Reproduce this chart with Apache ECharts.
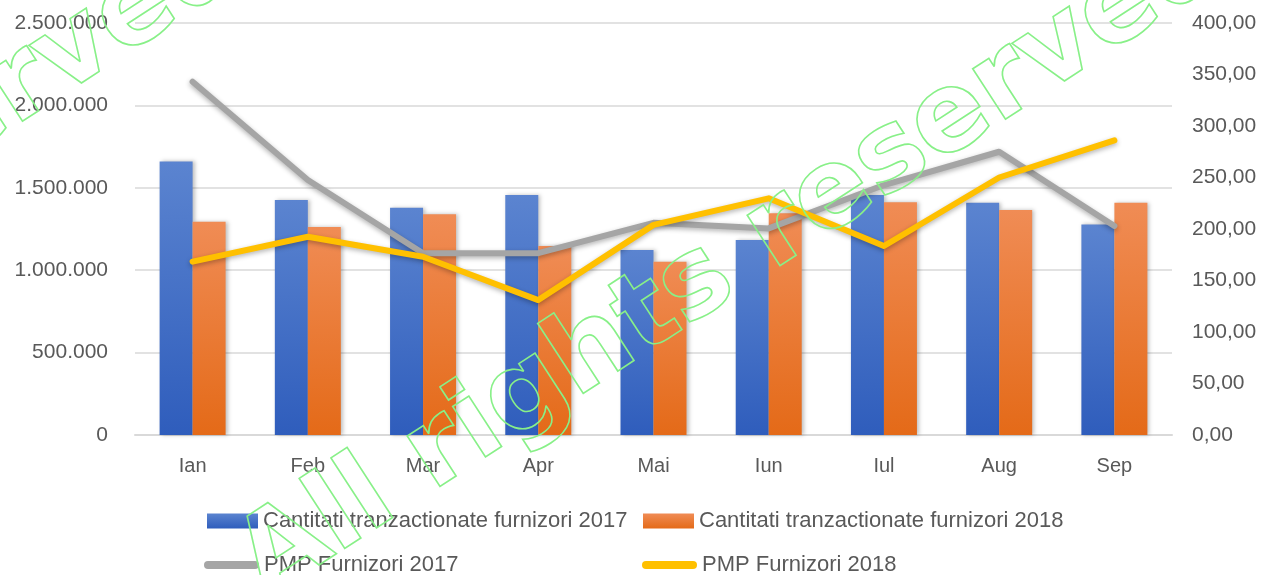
<!DOCTYPE html>
<html>
<head>
<meta charset="utf-8">
<title>Cantitati si PMP furnizori</title>
<script src="https://cdn.jsdelivr.net/npm/echarts@6/dist/echarts.min.js"></script>
<style>
  html, body { margin: 0; padding: 0; background: #fff; }
  #chart-box { width: 1265px; height: 575px; }
</style>
</head>
<body>
<div id="chart-box"></div>
<script>
// luni
var months = ['Ian', 'Feb', 'Mar', 'Apr', 'Mai', 'Iun', 'Iul', 'Aug', 'Sep'];
// cantitati (axa stanga)
var qty2017 = [1660000, 1426000, 1379000, 1456000, 1123000, 1183000, 1456000, 1410000, 1278000];
var qty2018 = [1294000, 1262000, 1339000, 1147000, 1052000, 1345000, 1412000, 1365000, 1410000];
// PMP (axa dreapta)
var pmp2017 = [343, 247.6, 176.4, 176.5, 206, 200.6, 242.7, 275, 203];
var pmp2018 = [168.3, 192.5, 173, 131, 204, 229.8, 183.5, 250, 286];
var seriesNames = [
  'Cantitati tranzactionate furnizori 2017',
  'Cantitati tranzactionate furnizori 2018',
  'PMP Furnizori 2017',
  'PMP Furnizori 2018'
];
var watermarkText = 'All rights reserved';

var labelColor = '#595959';
var gridColor = '#D9D9D9';
var lineIcon = 'path://M4,0 L51,0 A4,4 0 0 1 51,8 L4,8 A4,4 0 0 1 4,0 Z';

function fmtLeft(v) {
  return String(v).replace(/\B(?=(\d{3})+(?!\d))/g, '.');
}
function fmtRight(v) {
  return v.toFixed(2).replace('.', ',');
}
function legendItem(name, left, top, isLine) {
  return {
    data: [name],
    left: left,
    top: top,
    padding: 0,
    selectedMode: false,
    icon: isLine ? lineIcon : 'rect',
    itemWidth: isLine ? 55 : 51,
    itemHeight: isLine ? 8 : 15,
    textStyle: {
      color: labelColor,
      fontSize: 22,
      fontFamily: 'Liberation Sans'
    }
  };
}
function barGradient(top, bottom) {
  return new echarts.graphic.LinearGradient(0, 0, 0, 1, [
    { offset: 0, color: top },
    { offset: 1, color: bottom }
  ]);
}
function watermark(x, y) {
  return {
    type: 'text',
    x: x,
    y: y,
    rotation: 33 * Math.PI / 180,
    z: 100,
    silent: true,
    style: {
      text: watermarkText,
      font: 'bold 110px "DejaVu Sans"',
      fill: 'rgba(0,0,0,0)',
      stroke: '#88F088',
      lineWidth: 1.6,
      align: 'left',
      verticalAlign: 'bottom'
    }
  };
}

var chartObj = echarts.init(document.getElementById('chart-box'));
var option = {
  animation: false,
  textStyle: { fontFamily: 'Liberation Sans' },
  grid: {
    left: 135,
    right: 93,
    top: 23,
    bottom: 140
  },
  legend: [
    legendItem(seriesNames[0], 207, 510, false),
    legendItem(seriesNames[1], 643, 510, false),
    legendItem(seriesNames[2], 204, 554, true),
    legendItem(seriesNames[3], 642, 554, true)
  ],
  xAxis: {
    type: 'category',
    data: months,
    axisTick: { show: false },
    axisLine: { lineStyle: { color: gridColor, width: 2 } },
    axisLabel: { color: labelColor, fontSize: 20, margin: 21 }
  },
  yAxis: [
    {
      type: 'value',
      min: 0,
      max: 2500000,
      interval: 500000,
      axisLine: { show: false },
      axisTick: { show: false },
      splitLine: { lineStyle: { color: gridColor, width: 1.5 } },
      axisLabel: { color: labelColor, fontSize: 21, margin: 27, formatter: fmtLeft }
    },
    {
      type: 'value',
      min: 0,
      max: 400,
      interval: 50,
      axisLine: { show: false },
      axisTick: { show: false },
      splitLine: { show: false },
      axisLabel: { color: labelColor, fontSize: 21, margin: 20, formatter: fmtRight }
    }
  ],
  series: [
    {
      name: seriesNames[0],
      type: 'bar',
      barWidth: 33,
      barGap: '0%',
      data: qty2017,
      itemStyle: {
        color: barGradient('#5B84D0', '#2F5DBC'),
        shadowColor: 'rgba(0,0,0,0.25)',
        shadowBlur: 4,
        shadowOffsetX: 2
      }
    },
    {
      name: seriesNames[1],
      type: 'bar',
      barWidth: 33,
      barGap: '0%',
      data: qty2018,
      itemStyle: {
        color: barGradient('#F08C55', '#E46A18'),
        shadowColor: 'rgba(0,0,0,0.25)',
        shadowBlur: 4,
        shadowOffsetX: 2
      }
    },
    {
      name: seriesNames[2],
      type: 'line',
      yAxisIndex: 1,
      data: pmp2017,
      symbol: 'none',
      z: 5,
      itemStyle: { color: '#A5A5A5' },
      lineStyle: {
        color: '#A5A5A5',
        width: 6,
        cap: 'round',
        join: 'round',
        shadowColor: 'rgba(0,0,0,0.3)',
        shadowBlur: 5,
        shadowOffsetY: 2
      }
    },
    {
      name: seriesNames[3],
      type: 'line',
      yAxisIndex: 1,
      data: pmp2018,
      symbol: 'none',
      z: 6,
      itemStyle: { color: '#FFC000' },
      lineStyle: {
        color: '#FFC000',
        width: 6,
        cap: 'round',
        join: 'round',
        shadowColor: 'rgba(0,0,0,0.3)',
        shadowBlur: 5,
        shadowOffsetY: 2
      }
    }
  ],
  graphic: [
    watermark(280, 622),
    watermark(-703, 624)
  ]
};
chartObj.setOption(option);
</script>
</body>
</html>
